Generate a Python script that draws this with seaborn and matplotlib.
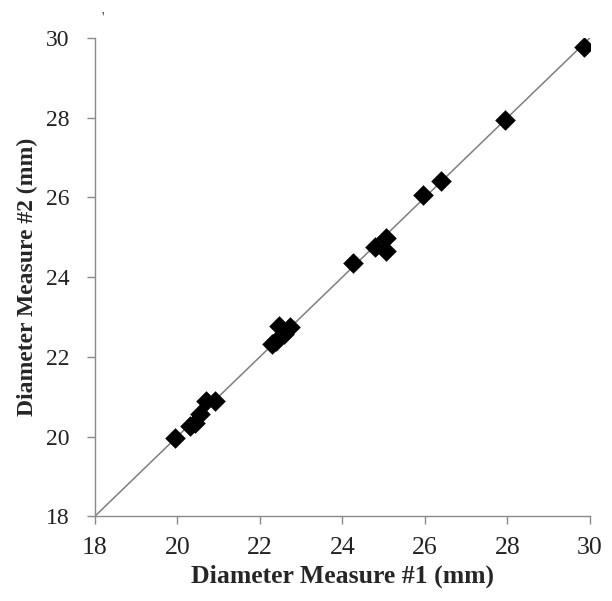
import numpy as np
import pandas as pd
import matplotlib
matplotlib.use("Agg")
import matplotlib.pyplot as plt
import seaborn as sb

# values
measure_1 = [19.95, 20.3, 20.42, 20.55, 20.7, 20.92,
             22.3, 22.38, 22.47, 22.58, 22.72,
             24.25, 24.8, 25.05, 25.05,
             25.95, 26.4, 27.95, 29.85]
measure_2 = [19.97, 20.27, 20.35, 20.57, 20.88, 20.88,
             22.33, 22.4, 22.78, 22.58, 22.75,
             24.35, 24.75, 24.98, 24.65,
             26.05, 26.4, 27.93, 29.77]
ticks = [18, 20, 22, 24, 26, 28, 30]

df = pd.DataFrame({"m1": measure_1, "m2": measure_2})

sb.set_style("ticks")
plt.rcParams["font.family"] = ["Liberation Serif", "DejaVu Serif"]

fig = plt.figure(figsize=(6.12, 6.01), dpi=100)
ax = fig.add_axes([0.155, 0.141, 0.809, 0.796])

# line of identity
ax.plot([ticks[0], ticks[-1]], [ticks[0], ticks[-1]], color="#7f7f7f", lw=1.1, zorder=1)

sb.scatterplot(data=df, x="m1", y="m2", marker="D", s=110, color="black",
               edgecolor="black", linewidth=0, ax=ax, zorder=2)

ax.set_xlim(18, 30)
ax.set_ylim(18, 30)
ax.set_xticks(ticks)
ax.set_yticks(ticks)
ax.tick_params(axis="both", length=6, width=1, color="#8a8a8a", labelcolor="#222222")
ax.tick_params(axis="x", labelsize=18.5, pad=9)
ax.tick_params(axis="y", labelsize=17, pad=12)
for side in ["top", "right"]:
    ax.spines[side].set_visible(False)
for side in ["left", "bottom"]:
    ax.spines[side].set_color("#8a8a8a")
    ax.spines[side].set_linewidth(1)

ax.set_xlabel("Diameter Measure #1 (mm)", fontsize=18.5, fontweight="bold", labelpad=4)
ax.set_ylabel("Diameter Measure #2 (mm)", fontsize=17, fontweight="bold", labelpad=6)

fig.text(0.166, 0.965, "'", fontsize=10, color="#333333")

fig.savefig("out.png", dpi=100)
